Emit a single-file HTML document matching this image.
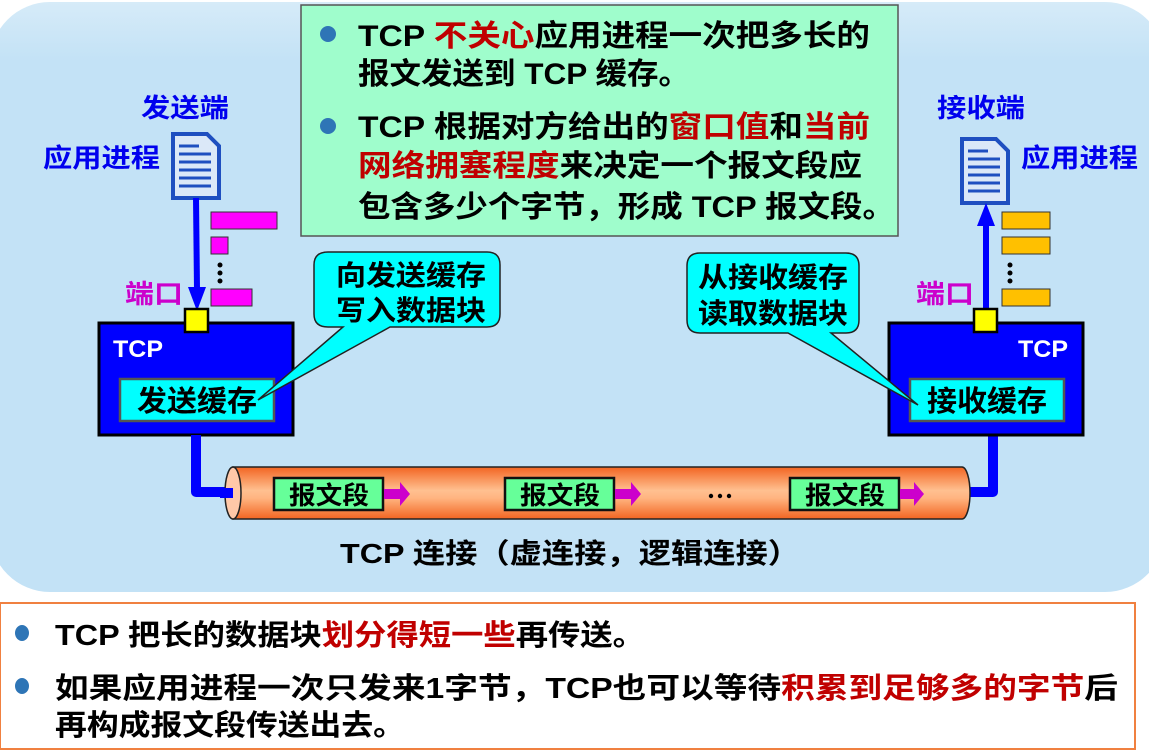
<!DOCTYPE html>
<html><head><meta charset="utf-8"><style>
html,body{margin:0;padding:0;background:#fff;}
svg{display:block;}
text{font-family:"Liberation Sans","Noto Sans CJK SC",sans-serif;font-weight:bold;}
</style></head><body>
<svg width="1149" height="756" viewBox="0 0 1149 756" xmlns="http://www.w3.org/2000/svg">
<defs>
<linearGradient id="pipe" x1="0" y1="0" x2="0" y2="1">
<stop offset="0" stop-color="#f26522"/><stop offset="0.45" stop-color="#ffc090"/><stop offset="0.6" stop-color="#ffb480"/><stop offset="1" stop-color="#f26522"/>
</linearGradient>
<linearGradient id="bg" x1="0" y1="0" x2="0" y2="1">
<stop offset="0" stop-color="#d6ebf8"/><stop offset="0.1" stop-color="#c3e2f6"/><stop offset="1" stop-color="#c3e2f6"/>
</linearGradient>
</defs>
<rect x="0" y="0" width="1149" height="756" fill="#fff"/>
<rect x="-10" y="2" width="1175" height="590" rx="60" fill="url(#bg)"/>
<!-- green box -->
<rect x="301" y="5" width="597" height="231" fill="#9ffdcc" stroke="#555" stroke-width="1.5"/>
<circle cx="328" cy="34" r="8" fill="#2e75b6"/>
<circle cx="328" cy="126" r="8" fill="#2e75b6"/>
<text x="358" y="46" font-size="30" textLength="512" lengthAdjust="spacingAndGlyphs">TCP <tspan fill="#c00000">不关心</tspan>应用进程一次把多长的</text>
<text x="358" y="84" font-size="30" textLength="332" lengthAdjust="spacingAndGlyphs">报文发送到 TCP 缓存。</text>
<text x="358" y="137" font-size="30" textLength="512" lengthAdjust="spacingAndGlyphs">TCP 根据对方给出的<tspan fill="#c00000">窗口值</tspan>和<tspan fill="#c00000">当前</tspan></text>
<text x="358" y="176" font-size="30" textLength="504" lengthAdjust="spacingAndGlyphs"><tspan fill="#c00000">网络拥塞程度</tspan>来决定一个报文段应</text>
<text x="358" y="217" font-size="30" textLength="537" lengthAdjust="spacingAndGlyphs">包含多少个字节，形成 TCP 报文段。</text>

<!-- left side -->
<text x="141" y="117" font-size="26" fill="#0000ee" textLength="88" lengthAdjust="spacingAndGlyphs">发送端</text>
<text x="43" y="167" font-size="26" fill="#0000ee" textLength="117" lengthAdjust="spacingAndGlyphs">应用进程</text>
<g transform="translate(171,132)">
<path d="M2 2 H36 L48 14 V66 H2 Z" fill="#dbe8f8" stroke="#1f4fc0" stroke-width="4"/>
<g stroke="#1f4fc0" stroke-width="3"><line x1="8" y1="14" x2="28" y2="14"/><line x1="8" y1="22" x2="40" y2="22"/><line x1="8" y1="30" x2="40" y2="30"/><line x1="8" y1="38" x2="40" y2="38"/><line x1="8" y1="46" x2="40" y2="46"/><line x1="8" y1="54" x2="40" y2="54"/></g>
</g>
<line x1="196" y1="198" x2="197" y2="290" stroke="#0000ff" stroke-width="6"/>
<polygon points="188,287 206,287 197,311" fill="#0000ff"/>
<rect x="211" y="212" width="66" height="17" fill="#ff00ff" stroke="#333" stroke-width="1"/>
<rect x="211" y="237" width="17" height="17" fill="#ff00ff" stroke="#333" stroke-width="1"/>
<circle cx="220" cy="265" r="2.5" fill="#000"/><circle cx="220" cy="273" r="2.5" fill="#000"/><circle cx="220" cy="281" r="2.5" fill="#000"/>
<rect x="211" y="289" width="41" height="17" fill="#ff00ff" stroke="#333" stroke-width="1"/>
<text x="125" y="303" font-size="26" fill="#cc00cc" textLength="58" lengthAdjust="spacingAndGlyphs">端口</text>
<rect x="99" y="323" width="194" height="112" fill="#0000ff" stroke="#000" stroke-width="3"/>
<rect x="185" y="309" width="23" height="23" fill="#ffff00" stroke="#000" stroke-width="2.5"/>
<text x="113" y="357" font-size="24" fill="#fff" textLength="50" lengthAdjust="spacingAndGlyphs">TCP</text>
<rect x="120" y="379" width="154" height="42" fill="#00ffff" stroke="#555" stroke-width="2.5"/>
<text x="137" y="411" font-size="29" textLength="120" lengthAdjust="spacingAndGlyphs">发送缓存</text>
<path d="M328 252 H487 Q500 252 500 265 V314 Q500 327 487 327 H390 L258 400 L343 327 H328 Q314 327 314 314 V265 Q314 252 328 252 Z" fill="#00ffff" stroke="#222" stroke-width="1.5"/>
<text x="336" y="285" font-size="28" textLength="150" lengthAdjust="spacingAndGlyphs">向发送缓存</text>
<text x="336" y="320" font-size="28" textLength="150" lengthAdjust="spacingAndGlyphs">写入数据块</text>

<!-- connectors -->
<path d="M196 435 V492 H232" fill="none" stroke="#0000ff" stroke-width="10" stroke-linejoin="round"/>
<path d="M993 435 V492 H962" fill="none" stroke="#0000ff" stroke-width="10" stroke-linejoin="round"/>
<!-- pipe -->
<path d="M233 467 H962 A8 26 0 0 1 962 519 H233 Z" fill="url(#pipe)" stroke="#222" stroke-width="1.5"/>
<ellipse cx="233" cy="493" rx="8" ry="26" fill="#ffc8a8" stroke="#222" stroke-width="1.5"/>
<rect x="220" y="488" width="13" height="10" fill="#0000ff"/>
<g>
<rect x="274" y="478" width="109" height="32" fill="#66ff99" stroke="#111" stroke-width="2.5"/>
<text x="289" y="504" font-size="25" textLength="80" lengthAdjust="spacingAndGlyphs">报文段</text>
<polygon points="384,489 400,489 400,482 410,494 400,506 400,499 384,499" fill="#cc00cc"/>
<rect x="505" y="478" width="109" height="32" fill="#66ff99" stroke="#111" stroke-width="2.5"/>
<text x="520" y="504" font-size="25" textLength="80" lengthAdjust="spacingAndGlyphs">报文段</text>
<polygon points="615,489 631,489 631,482 641,494 631,506 631,499 615,499" fill="#cc00cc"/>
<circle cx="711" cy="496" r="2.2" fill="#000"/><circle cx="720" cy="496" r="2.2" fill="#000"/><circle cx="729" cy="496" r="2.2" fill="#000"/>
<rect x="790" y="478" width="109" height="32" fill="#66ff99" stroke="#111" stroke-width="2.5"/>
<text x="805" y="504" font-size="25" textLength="80" lengthAdjust="spacingAndGlyphs">报文段</text>
<polygon points="900,489 914,489 914,482 924,494 914,506 914,499 900,499" fill="#cc00cc"/>
</g>

<!-- right side -->
<text x="937" y="117" font-size="26" fill="#0000ee" textLength="88" lengthAdjust="spacingAndGlyphs">接收端</text>
<text x="1021" y="167" font-size="26" fill="#0000ee" textLength="117" lengthAdjust="spacingAndGlyphs">应用进程</text>
<g transform="translate(960,137)">
<path d="M2 2 H36 L48 14 V66 H2 Z" fill="#dbe8f8" stroke="#1f4fc0" stroke-width="4"/>
<g stroke="#1f4fc0" stroke-width="3"><line x1="8" y1="14" x2="28" y2="14"/><line x1="8" y1="22" x2="40" y2="22"/><line x1="8" y1="30" x2="40" y2="30"/><line x1="8" y1="38" x2="40" y2="38"/><line x1="8" y1="46" x2="40" y2="46"/><line x1="8" y1="54" x2="40" y2="54"/></g>
</g>
<line x1="986" y1="310" x2="986" y2="222" stroke="#0000ff" stroke-width="6"/>
<polygon points="977,226 995,226 986,203" fill="#0000ff"/>
<rect x="1002" y="212" width="48" height="17" fill="#ffc000" stroke="#333" stroke-width="1"/>
<rect x="1002" y="237" width="48" height="17" fill="#ffc000" stroke="#333" stroke-width="1"/>
<circle cx="1010" cy="265" r="2.5" fill="#000"/><circle cx="1010" cy="273" r="2.5" fill="#000"/><circle cx="1010" cy="281" r="2.5" fill="#000"/>
<rect x="1002" y="289" width="48" height="17" fill="#ffc000" stroke="#333" stroke-width="1"/>
<text x="916" y="303" font-size="26" fill="#cc00cc" textLength="58" lengthAdjust="spacingAndGlyphs">端口</text>
<rect x="889" y="323" width="194" height="112" fill="#0000ff" stroke="#000" stroke-width="3"/>
<rect x="974" y="309" width="23" height="23" fill="#ffff00" stroke="#000" stroke-width="2.5"/>
<text x="1018" y="357" font-size="24" fill="#fff" textLength="50" lengthAdjust="spacingAndGlyphs">TCP</text>
<rect x="910" y="379" width="154" height="42" fill="#00ffff" stroke="#555" stroke-width="2.5"/>
<text x="927" y="411" font-size="29" textLength="120" lengthAdjust="spacingAndGlyphs">接收缓存</text>
<path d="M700 253 H846 Q859 253 859 266 V320 Q859 333 846 333 H831 L918 405 L788 333 H700 Q687 333 687 320 V266 Q687 253 700 253 Z" fill="#00ffff" stroke="#222" stroke-width="1.5"/>
<text x="698" y="287" font-size="28" textLength="150" lengthAdjust="spacingAndGlyphs">从接收缓存</text>
<text x="698" y="323" font-size="28" textLength="150" lengthAdjust="spacingAndGlyphs">读取数据块</text>

<text x="340" y="563" font-size="28" textLength="460" lengthAdjust="spacingAndGlyphs">TCP 连接（虚连接，逻辑连接）</text>

<!-- bottom box -->
<rect x="0" y="603" width="1135" height="146" fill="#fff" stroke="#f08040" stroke-width="2"/>
<ellipse cx="22" cy="633" rx="7" ry="8" fill="#2e75b6"/>
<ellipse cx="22" cy="686" rx="7" ry="8" fill="#2e75b6"/>
<text x="55" y="645" font-size="29" textLength="590" lengthAdjust="spacingAndGlyphs">TCP 把长的数据块<tspan fill="#c00000">划分得短一些</tspan>再传送。</text>
<text x="55" y="698" font-size="29" textLength="1063" lengthAdjust="spacingAndGlyphs">如果应用进程一次只发来1字节，TCP也可以等待<tspan fill="#c00000">积累到足够多的字节</tspan>后</text>
<text x="55" y="735" font-size="29" textLength="350" lengthAdjust="spacingAndGlyphs">再构成报文段传送出去。</text>
</svg>
</body></html>
